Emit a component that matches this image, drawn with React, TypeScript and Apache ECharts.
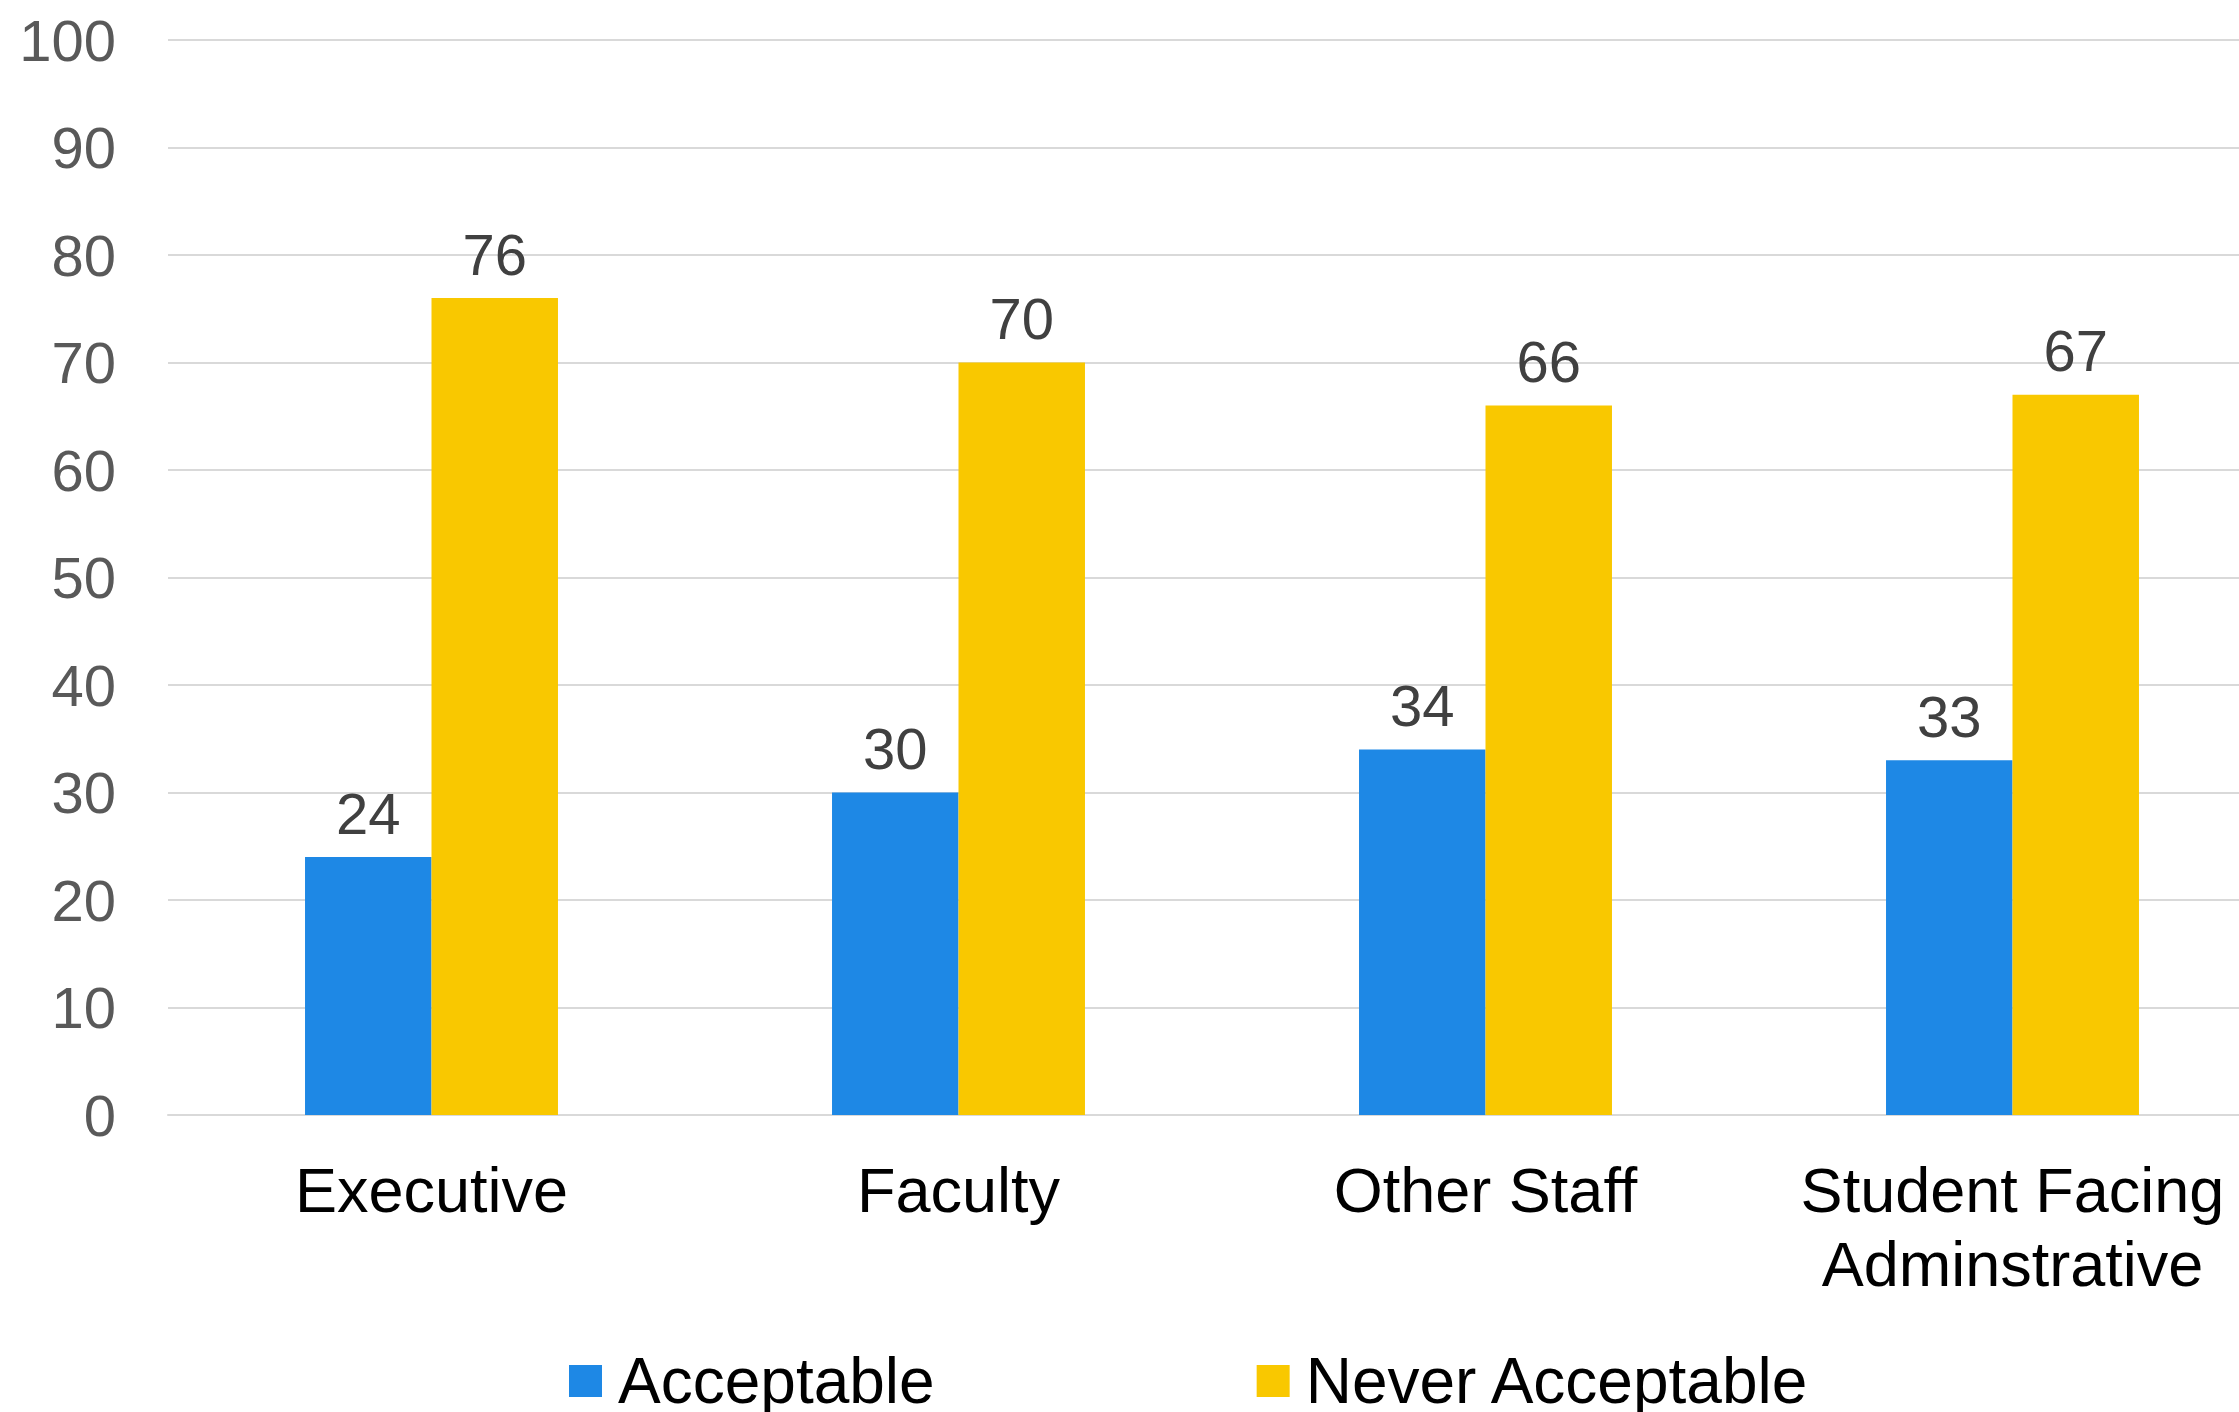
import React, { useEffect, useRef } from "react";
import * as echarts from "echarts";

const categories = ["Executive", "Faculty", "Other Staff", "Student Facing\nAdminstrative"];
const acceptable = [24, 30, 34, 33];
const neverAcceptable = [76, 70, 66, 67];
const seriesNames = ["Acceptable", "Never Acceptable"];

export default function App() {
  const ref = useRef<HTMLDivElement>(null);
  useEffect(() => {
    if (!ref.current) return;
    const chart = echarts.init(ref.current, null, { renderer: "svg" });
    const font = "Liberation Sans, Arial, sans-serif";
    const label = {
      show: true,
      position: "top",
      distance: 15,
      color: "#404040",
      fontSize: 58,
      fontFamily: font,
    };
    chart.setOption({
      animation: false,
      backgroundColor: "#ffffff",
      grid: { left: 168, top: 40, bottom: 297, right: 0, containLabel: false },
      legend: {
        left: 564,
        top: 1344,
        itemWidth: 33,
        itemHeight: 32,
        itemGap: 322,
        icon: "rect",
        textStyle: { fontSize: 64, fontFamily: font, color: "#000", padding: [0, 0, 0, 11], lineHeight: 64 },
        data: seriesNames,
      },
      xAxis: {
        type: "category",
        data: categories,
        axisTick: { show: false },
        axisLine: { lineStyle: { color: "#D9D9D9", width: 2 } },
        axisLabel: { color: "#000", fontSize: 63, lineHeight: 74, margin: 38, fontFamily: font, interval: 0 },
      },
      yAxis: {
        type: "value",
        min: 0,
        max: 100,
        interval: 10,
        axisLine: { show: false },
        axisTick: { show: false },
        splitLine: { lineStyle: { color: "#D9D9D9", width: 2 } },
        axisLabel: { color: "#595959", fontSize: 58, margin: 52, fontFamily: font },
      },
      series: [
        {
          name: seriesNames[0],
          type: "bar",
          data: acceptable,
          barGap: "0%",
          barCategoryGap: "52%",
          itemStyle: { color: "#1E88E5" },
          label,
        },
        {
          name: seriesNames[1],
          type: "bar",
          data: neverAcceptable,
          barGap: "0%",
          barCategoryGap: "52%",
          itemStyle: { color: "#F9C800" },
          label,
        },
      ],
    });
    return () => chart.dispose();
  }, []);
  return (
    <div
      ref={ref}
      style={{ position: "fixed", left: 0, top: 0, width: 2276, height: 1412 }}
    />
  );
}
